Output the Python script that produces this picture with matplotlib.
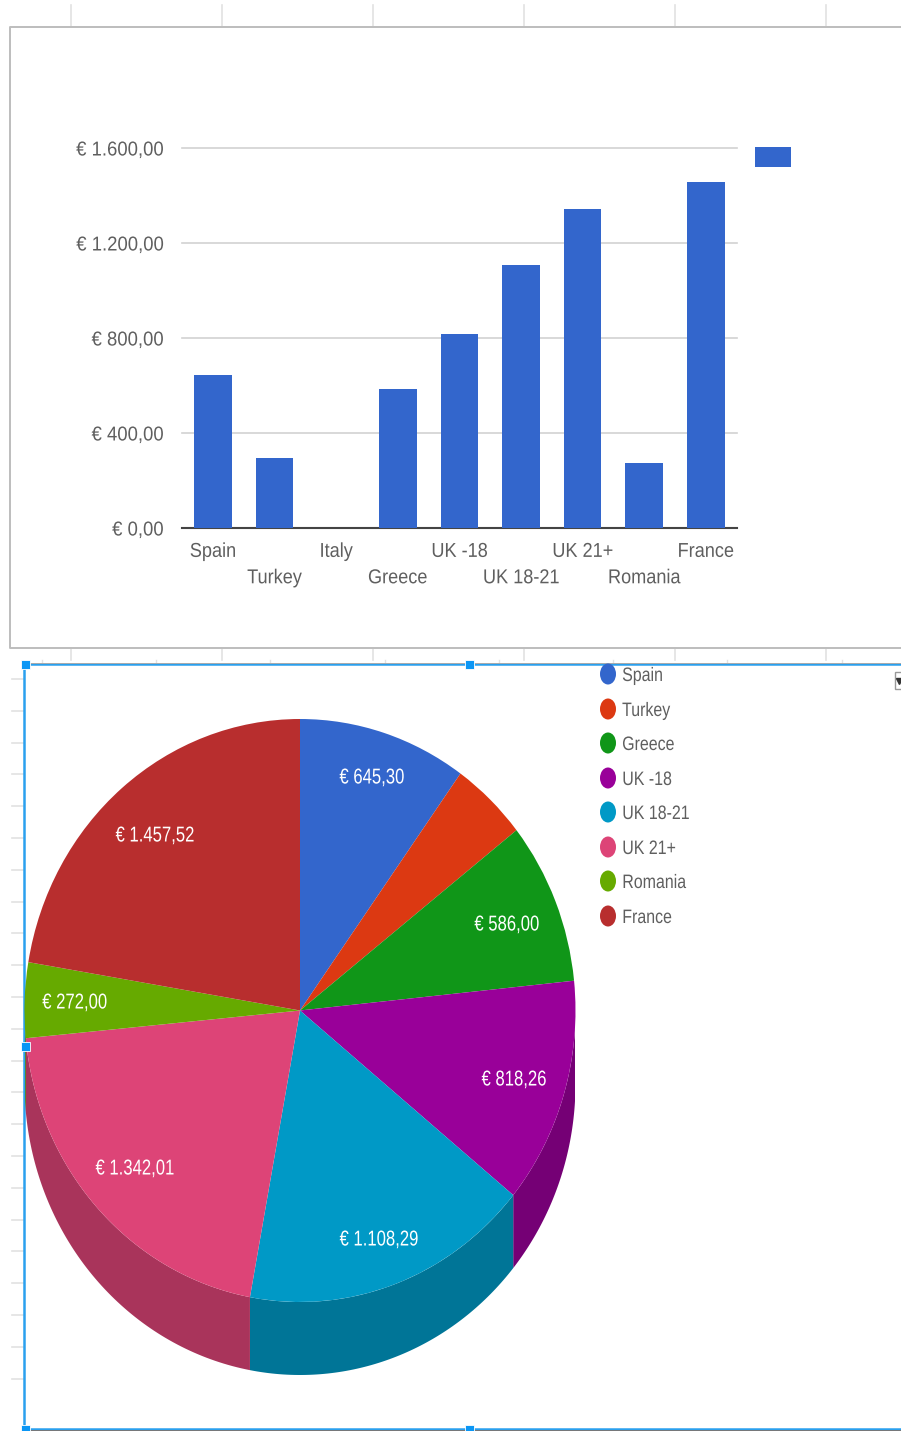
import numpy as np
import matplotlib
matplotlib.use("Agg")
import matplotlib.pyplot as plt
from matplotlib.patches import Ellipse, Rectangle
from matplotlib.patheffects import AbstractPathEffect
from matplotlib.transforms import Affine2D

W, H = 901, 1431
plt.rcParams["font.family"] = "Liberation Sans"

categories = ["Spain", "Turkey", "Italy", "Greece", "UK -18", "UK 18-21", "UK 21+", "Romania", "France"]
values = [645.30, 293.00, 0.00, 586.00, 818.26, 1108.29, 1342.01, 272.00, 1457.52]
y_ticks = [0, 400, 800, 1200, 1600]
y_tick_labels = ["€ 0,00", "€ 400,00", "€ 800,00", "€ 1.200,00", "€ 1.600,00"]
pie_categories = ["Spain", "Turkey", "Greece", "UK -18", "UK 18-21", "UK 21+", "Romania", "France"]
pie_values = [645.30, 293.00, 586.00, 818.26, 1108.29, 1342.01, 272.00, 1457.52]
pie_colors = ["#3366CC", "#DC3912", "#109618", "#990099", "#0099C6", "#DD4477", "#66AA00", "#B82E2E"]
pie_labels = ["€ 645,30", "", "€ 586,00", "€ 818,26", "€ 1.108,29", "€ 1.342,01", "€ 272,00", "€ 1.457,52"]
pie_label_px = [(372, 776), None, (507, 923), (514, 1078), (379, 1238), (135, 1167), (75, 1001), (155, 834)]
legend_y_px = [674, 709, 743, 778, 812, 847, 881, 916]


class Squeeze(AbstractPathEffect):
    """Narrow a text horizontally about its left, centre or right edge."""

    def __init__(self, sx, anchor="center"):
        super().__init__()
        self.sx, self.anchor = sx, anchor

    def draw_path(self, renderer, gc, tpath, affine, rgbFace=None):
        e = tpath.get_extents()
        a = {"left": e.x0, "center": (e.x0 + e.x1) / 2, "right": e.x1}[self.anchor]
        t = Affine2D().translate(-a, 0).scale(self.sx, 1).translate(a, 0) + affine
        renderer.draw_path(gc, tpath, t, rgbFace)


fig = plt.figure(figsize=(W / 100, H / 100), dpi=100, facecolor="white")


def axes_px(x0, y0, x1, y1, **kw):
    return fig.add_axes([x0 / W, 1 - y1 / H, (x1 - x0) / W, (y1 - y0) / H], **kw)


# Overlay in pixel coordinates for the screenshot furniture
deco = axes_px(0, 0, W, H, zorder=0)
deco.set_xlim(0, W)
deco.set_ylim(H, 0)
deco.axis("off")

tick_c = "#E2E2E2"
for x in [71, 222, 373, 524, 675, 826]:
    deco.plot([x, x], [5, 27], color=tick_c, lw=1.2)
    deco.plot([x, x], [649, 660], color=tick_c, lw=1.2)
for x in [42, 156, 270, 385, 499, 613, 727, 842]:
    deco.plot([x, x], [660, 663], color=tick_c, lw=1.0)
for y in np.arange(679, 1410, 31.8):
    deco.plot([12, 23], [y, y], color=tick_c, lw=1.2)
deco.plot([W, 10, 10, W], [27, 27, 648, 648], color="#BDBDBD", lw=1.4)
deco.plot([W, 24, 24, W], [664, 664, 1429, 1429], color="#2AA0EE", lw=1.8)
deco.plot([W, 30], [662.6, 662.6], color="#AAAAAA", lw=0.7)
deco.plot([W, 30], [1430.4, 1430.4], color="#777777", lw=0.7)
deco.add_patch(Rectangle((895, 672), 9, 17, fc="white", ec="#999999", lw=1))
deco.plot([899], [681], marker="v", ms=4, color="#333333", ls="none")
deco.add_patch(Rectangle((755, 147), 36, 20, fc="#3366CC", ec="none"))

# Column chart
ax = axes_px(182.2, 148, 736.6, 528)
x = np.arange(len(categories))
ax.bar(x, values, width=0.61, color="#3366CC", zorder=3)
ax.set_xlim(-0.5, len(categories) - 0.5)
ax.set_ylim(0, 1600)
ax.set_yticks(y_ticks, y_tick_labels)
ax.set_xticks(x, categories)
ax.grid(axis="y", color="#D2D2D2", lw=1.2, zorder=0, clip_on=False)
ax.set_axisbelow(True)
ax.patch.set_alpha(0)
for s in ["top", "left", "right"]:
    ax.spines[s].set_visible(False)
ax.spines["bottom"].set_color("#444444")
ax.spines["bottom"].set_linewidth(1.5)
ax.tick_params(axis="both", length=0, labelcolor="#5F5F5F", labelsize=14.5)
ax.tick_params(axis="y", pad=13.5)
for i, t in enumerate(ax.xaxis.get_major_ticks()):
    t.set_pad(10 if i % 2 == 0 else 29)
for lab in ax.get_xticklabels():
    lab.set_path_effects([Squeeze(0.9, "center")])
for lab in ax.get_yticklabels():
    lab.set_path_effects([Squeeze(0.92, "right")])

# Pie chart with extruded rim
RX_PX, RY_PX, DEPTH_PX = 275.5, 291.5, 73.0
CX, CY = 300.0, 1010.5
pie_ax = axes_px(CX - RX_PX, CY - RY_PX, CX + RX_PX, CY + RY_PX + DEPTH_PX, zorder=2)
pie_ax.pie(pie_values, colors=pie_colors, startangle=90, counterclock=False, radius=1.0,
           wedgeprops={"linewidth": 0})
depth = DEPTH_PX / RY_PX
pie_ax.set_aspect("auto")
pie_ax.set_xlim(-1, 1)
pie_ax.set_ylim(-1 - depth, 1)
edges = 90 - np.cumsum([0] + pie_values) / sum(pie_values) * 360
for a0, a1, col in zip(edges[:-1], edges[1:], pie_colors):
    # visible rim: the part of the slice in the lower half of the ellipse
    lo, hi = max(a1, -180), min(a0, 0)
    if hi <= lo:
        continue
    th = np.radians(np.linspace(hi, lo, 80))
    xs, ys = np.cos(th), np.sin(th)
    dark = tuple(c * 0.765 for c in matplotlib.colors.to_rgb(col))
    pie_ax.fill(np.r_[xs, xs[::-1]], np.r_[ys, ys[::-1] - depth], color=dark, lw=0, zorder=-1)

# Pie value labels, legend and selection handles, above the pie
top = axes_px(0, 0, W, H, zorder=4)
top.set_xlim(0, W)
top.set_ylim(H, 0)
top.axis("off")
for lab, pos in zip(pie_labels, pie_label_px):
    if pos:
        t = top.text(pos[0], pos[1] + 7.5, lab, color="white", fontsize=15.5, ha="center", va="baseline")
        t.set_path_effects([Squeeze(0.775, "center")])
for name, col, y in zip(pie_categories, pie_colors, legend_y_px):
    top.add_patch(Ellipse((608, y), 16, 21, fc=col, ec="none"))
    t = top.text(622, y + 7, name, color="#5F5F5F", fontsize=14, ha="left", va="baseline")
    t.set_path_effects([Squeeze(0.82, "left")])
for hx, hy in [(25, 664), (469, 664), (25, 1046), (25, 1429), (469, 1429)]:
    top.add_patch(Rectangle((hx - 4.5, hy - 4.5), 9, 9, fc="#0A96F5", ec="white", lw=0.6, zorder=5))

fig.savefig("out.png", dpi=100)
